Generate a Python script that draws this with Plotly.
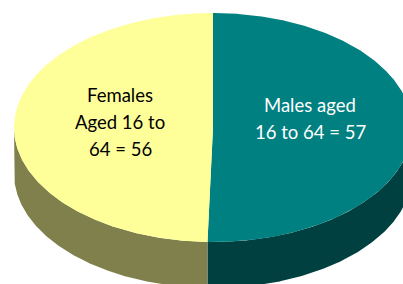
import numpy as np
import plotly.graph_objects as go

# ---- data ----
labels = ["Males aged 16 to 64", "Females Aged 16 to 64"]
values = [57, 56]
label_lines = [["Males aged", "16 to 64 = 57"], ["Females", "Aged 16 to", "64 = 56"]]

# ---- style / geometry ----
top_colors = ["#008080", "#FFFF99"]
side_colors = ["#004040", "#80804C"]
text_colors = ["#FFFFFF", "#000000"]
W, H = 403, 284
cx, cy, rx, ry, depth = 213, 127.5, 199, 114.5, 46
label_pos = [(310, 105), (120, 95)]   # centre x, first line y
line_gap = 27

total = sum(values)
fig = go.Figure()

def pt(th, dy=0.0):
    return cx + rx * np.sin(th), cy - ry * np.cos(th) + dy

starts, ends = [], []
acc = 0.0
for v in values:
    starts.append(2 * np.pi * acc / total)
    acc += v
    ends.append(2 * np.pi * acc / total)

# side walls
for i in range(len(values)):
    a0 = max(starts[i], np.pi / 2)
    a1 = min(ends[i], 3 * np.pi / 2)
    if a1 <= a0:
        continue
    th = np.linspace(a0, a1, 200)
    xt, yt = pt(th)
    xb, yb = pt(th[::-1], depth)
    fig.add_trace(go.Scatter(x=np.concatenate([xt, xb]), y=np.concatenate([yt, yb]),
                             fill="toself", fillcolor=side_colors[i], mode="lines",
                             line=dict(width=0), hoverinfo="skip", showlegend=False))

# top faces
for i in range(len(values)):
    th = np.linspace(starts[i], ends[i], 400)
    xs, ys = pt(th)
    xs = np.concatenate([[cx], xs, [cx]])
    ys = np.concatenate([[cy], ys, [cy]])
    fig.add_trace(go.Scatter(x=xs, y=ys, fill="toself", fillcolor=top_colors[i],
                             mode="lines", line=dict(width=0), hoverinfo="skip",
                             showlegend=False, name=labels[i]))

for i, lines in enumerate(label_lines):
    for j, t in enumerate(lines):
        fig.add_annotation(x=label_pos[i][0], y=label_pos[i][1] + j * line_gap, text=t,
                           showarrow=False,
                           font=dict(family="Lato", size=18.5, color=text_colors[i]),
                           xanchor="center", yanchor="middle")

fig.update_layout(width=W, height=H, autosize=False,
                  margin=dict(l=0, r=0, t=0, b=0),
                  paper_bgcolor="white", plot_bgcolor="white",
                  xaxis=dict(range=[0, W], visible=False, fixedrange=True),
                  yaxis=dict(range=[H, 0], visible=False, fixedrange=True))
fig.write_html("out.html", config={"displayModeBar": False},
               post_script="document.body.style.margin='0';document.body.style.overflow='hidden';")
